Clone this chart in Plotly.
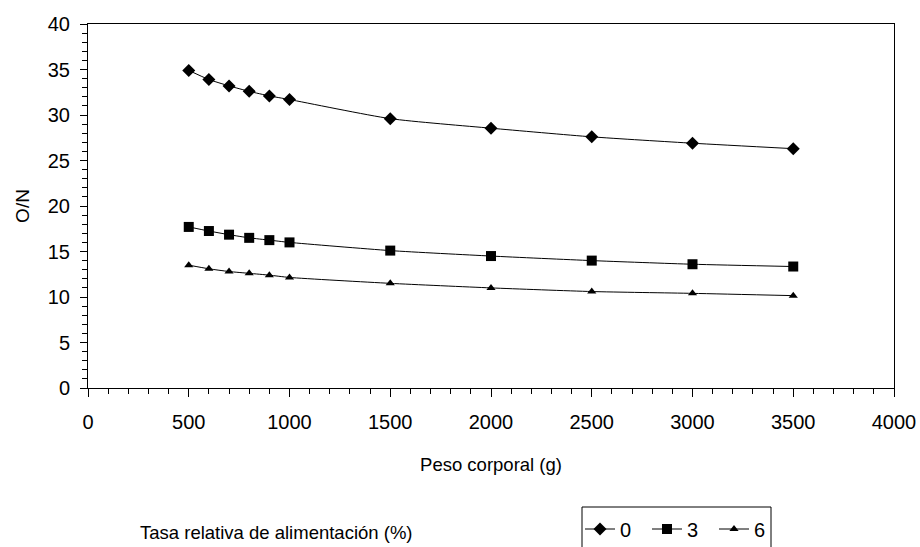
import plotly.graph_objects as go

peso = [500, 600, 700, 800, 900, 1000, 1500, 2000, 2500, 3000, 3500]
on_0 = [34.9, 33.9, 33.2, 32.6, 32.1, 31.7, 29.6, 28.55, 27.6, 26.9, 26.3]
on_3 = [17.7, 17.25, 16.85, 16.5, 16.25, 16.0, 15.1, 14.5, 14.0, 13.6, 13.35]
on_6 = [13.5, 13.1, 12.8, 12.6, 12.4, 12.15, 11.5, 11.0, 10.6, 10.4, 10.15]
series_names = ["0", "3", "6"]

FONT = "Arial, Liberation Sans, sans-serif"

fig = go.Figure()
specs = [(on_0, "diamond", 10), (on_3, "square", 10), (on_6, "triangle-up", 8)]
for name, (vals, sym, sz) in zip(series_names, specs):
    fig.add_trace(go.Scatter(
        x=peso, y=vals, name=name, mode="lines+markers",
        line=dict(color="black", width=1, shape="spline", smoothing=0.6),
        marker=dict(symbol=sym, size=sz, color="black"),
    ))

L, R, T, B = 88, 26, 24, 159
W, H = 920, 547
pw = W - L - R
ph = H - T - B

def px_x(px):
    return (px - L) / pw

def px_y(py):
    return (H - B - py) / ph

fig.update_layout(
    width=W, height=H,
    margin=dict(l=L, r=R, t=T, b=B, autoexpand=False),
    paper_bgcolor="white", plot_bgcolor="white",
    font=dict(family=FONT, size=19, color="black"),
    showlegend=True,
    legend=dict(
        orientation="h", x=px_x(580), xanchor="left",
        y=px_y(529), yanchor="middle",
        entrywidth=22, entrywidthmode="pixels",
        bgcolor="rgba(0,0,0,0)", borderwidth=0,
        font=dict(family=FONT, size=20, color="black"),
    ),
    xaxis=dict(
        range=[0, 4000], tick0=0, dtick=500, showgrid=False, zeroline=False,
        showline=True, linecolor="black", linewidth=1, mirror=True,
        ticks="outside", ticklen=8, tickcolor="black", tickwidth=1,
        minor=dict(dtick=100, ticks="outside", ticklen=5, tickcolor="black", showgrid=False),
        tickfont=dict(family=FONT, size=20, color="black"),
        title=dict(text="Peso corporal (g)", standoff=26,
                   font=dict(family=FONT, size=18.5, color="black")),
        ticklabelstandoff=8, automargin=False,
    ),
    yaxis=dict(
        range=[0, 40], tick0=0, dtick=5, showgrid=False, zeroline=False,
        showline=True, linecolor="black", linewidth=1, mirror=True,
        ticks="outside", ticklen=7, tickcolor="black", tickwidth=1,
        minor=dict(dtick=1, ticks="outside", ticklen=5, tickcolor="black", showgrid=False),
        tickfont=dict(family=FONT, size=20, color="black"),
        title=dict(text="O/N", standoff=13,
                   font=dict(family=FONT, size=19, color="black")),
        ticklabelstandoff=6, automargin=False,
    ),
    shapes=[dict(
        type="rect", xref="paper", yref="paper",
        x0=px_x(582), x1=px_x(771), y0=px_y(507), y1=px_y(570),
        line=dict(color="black", width=1), fillcolor="rgba(0,0,0,0)",
    )],
    annotations=[dict(
        text="Tasa relativa de alimentación (%)", xref="paper", yref="paper",
        x=px_x(138), xanchor="left", y=px_y(532), yanchor="middle",
        showarrow=False, font=dict(family=FONT, size=18.5, color="black"),
    )],
)

fig.write_html("out.html", config={"displayModeBar": False},
               post_script="document.body.style.margin='0px';")
